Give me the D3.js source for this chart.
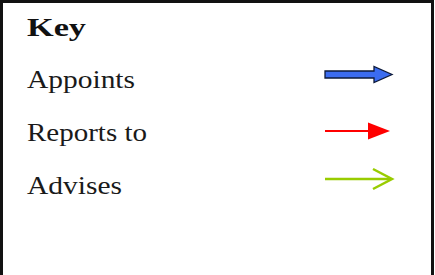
<!DOCTYPE html>
<html>
<head>
<meta charset="utf-8">
<script src="https://cdn.jsdelivr.net/npm/d3@7"></script>
<style>
  body { margin: 0; background: #fff; }
  svg { display: block; }
</style>
</head>
<body>
<svg id="key" width="435" height="275"></svg>
<script>
// legend content
const title = "Key";
const labels = ["Appoints", "Reports to", "Advises"];
const arrowKinds = ["block", "filled", "open"];
const arrowColors = ["#3b6cf0", "#ff0000", "#99cc00"];

const width = 435, height = 275;
const svg = d3.select("#key");

// frame: left, top, right only (bottom runs off the picture)
svg.append("path")
  .attr("d", `M1.5,${height} V1.5 H432.5 V${height}`)
  .attr("fill", "none")
  .attr("stroke", "#111")
  .attr("stroke-width", 3);

svg.append("text")
  .attr("x", 27).attr("y", 36)
  .attr("font-family", "Liberation Serif, Times New Roman, serif")
  .attr("font-weight", "bold")
  .attr("font-size", 26)
  .attr("textLength", 59)
  .attr("lengthAdjust", "spacingAndGlyphs")
  .attr("fill", "#111")
  .text(title);

// rows -> baseline y
const y = d3.scalePoint().domain(d3.range(labels.length)).range([88, 194]);
// arrow run from tail to tip
const x = d3.scaleLinear().domain([0, 1]).range([325, 392]);

const textWidths = [108, 120, 95];

const rows = svg.selectAll(".row")
  .data(labels.map((l, i) => ({ label: l, kind: arrowKinds[i], color: arrowColors[i], i })))
  .enter().append("g")
  .attr("class", "row");

rows.append("text")
  .attr("x", 27)
  .attr("y", d => y(d.i))
  .attr("font-family", "Liberation Serif, Times New Roman, serif")
  .attr("font-size", 26)
  .attr("textLength", d => textWidths[d.i])
  .attr("lengthAdjust", "spacingAndGlyphs")
  .attr("fill", "#1a1a1a")
  .text(d => d.label);

const arrowOffset = [13.5, 10, 15];

rows.each(function(d) {
  const g = d3.select(this);
  const cy = y(d.i) - arrowOffset[d.i];
  const x0 = x(0), x1 = x(1);
  if (d.kind === "block") {
    const hb = x1 - 18;
    g.append("path")
      .attr("d", `M${x0},${cy - 3.5} H${hb} V${cy - 8} L${x1},${cy} L${hb},${cy + 8} V${cy + 3.5} H${x0} Z`)
      .attr("fill", d.color)
      .attr("stroke", "#0d1a3a")
      .attr("stroke-width", 1.3)
      .attr("stroke-linejoin", "miter");
  } else if (d.kind === "filled") {
    const tip = x1 - 2;
    g.append("line")
      .attr("x1", x0).attr("x2", tip - 20)
      .attr("y1", cy).attr("y2", cy)
      .attr("stroke", d.color).attr("stroke-width", 2);
    g.append("path")
      .attr("d", `M${tip - 22},${cy - 8.5} L${tip},${cy} L${tip - 22},${cy + 8.5} Z`)
      .attr("fill", d.color);
  } else {
    g.append("line")
      .attr("x1", x0).attr("x2", x1 - 1)
      .attr("y1", cy).attr("y2", cy)
      .attr("stroke", d.color).attr("stroke-width", 2.5);
    g.append("path")
      .attr("d", `M${x1 - 19},${cy - 10} L${x1},${cy} L${x1 - 19},${cy + 10}`)
      .attr("fill", "none")
      .attr("stroke", d.color).attr("stroke-width", 2.5);
  }
});
</script>
</body>
</html>
